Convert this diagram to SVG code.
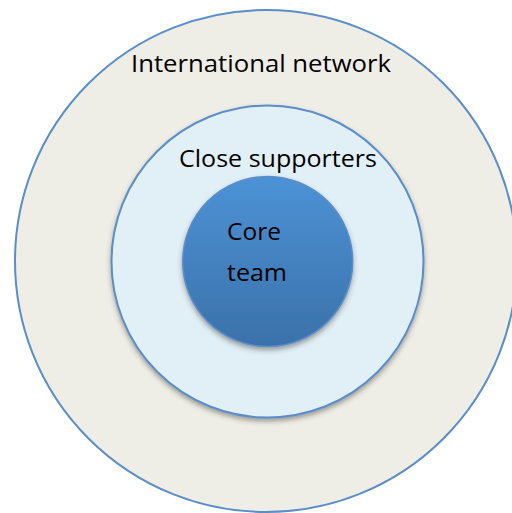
<svg xmlns="http://www.w3.org/2000/svg" width="512" height="513" viewBox="0 0 512 513">
<defs>
<linearGradient id="core" x1="0" y1="0" x2="0" y2="1">
<stop offset="0" stop-color="#4C92D6"/>
<stop offset="1" stop-color="#3B71A9"/>
</linearGradient>
<filter id="sh" x="-10%" y="-10%" width="120%" height="125%">
<feDropShadow dx="0" dy="3" stdDeviation="2.5" flood-color="#3a3a30" flood-opacity="0.45"/>
</filter>
<style>
.ring{stroke:#5B8DC8;stroke-width:2}
.lbl{font-family:"Open Sans","Noto Sans","DejaVu Sans",sans-serif;font-size:24px;fill:#000}
</style>
</defs>
<rect width="512" height="513" fill="#ffffff"/>
<g id="international-network">
<circle class="ring" cx="266" cy="261" r="251" fill="#EFEEE6"/>
<text class="lbl" x="131" y="72" textLength="260" lengthAdjust="spacingAndGlyphs">International network</text>
</g>
<g id="close-supporters">
<circle class="ring" cx="267.5" cy="261.5" r="156" fill="#E1EFF6" filter="url(#sh)"/>
<text class="lbl" x="179" y="167" textLength="198" lengthAdjust="spacingAndGlyphs">Close supporters</text>
</g>
<g id="core-team">
<circle cx="267.7" cy="261.5" r="85" fill="url(#core)" stroke="#5B8DC8" stroke-width="1.5" filter="url(#sh)"/>
<text class="lbl" x="227" y="240" textLength="54" lengthAdjust="spacingAndGlyphs">Core</text>
<text class="lbl" x="227" y="281" textLength="60" lengthAdjust="spacingAndGlyphs">team</text>
</g>
<g id="connectors"/>
</svg>
